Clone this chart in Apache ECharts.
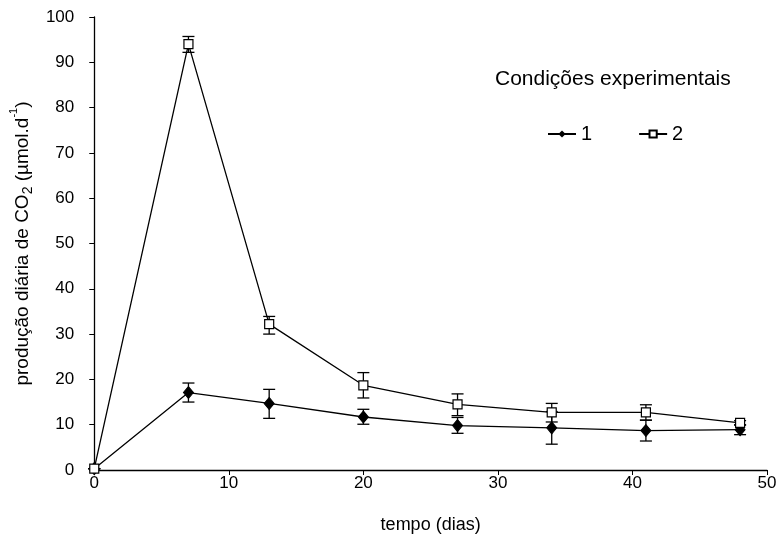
<!DOCTYPE html>
<html>
<head>
<meta charset="utf-8">
<script src="https://cdn.jsdelivr.net/npm/echarts@6/dist/echarts.min.js"></script>
<style>
  html, body { margin: 0; padding: 0; background: #fff; }
  #chart { width: 782px; height: 549px; }
</style>
</head>
<body>
<div id="chart"></div>
<script>
// Sampling days
const days = [0, 7, 13, 20, 27, 34, 41, 48];

// Condition 1: mean daily CO2 production and error bar limits
const cond1 = [0.3, 17.1, 14.7, 11.7, 9.8, 9.3, 8.7, 8.9];
const cond1Low = [0.3, 15.0, 11.4, 10.1, 8.1, 5.7, 6.4, 7.8];
const cond1High = [0.3, 19.2, 17.8, 13.4, 11.6, 12.9, 11.0, 10.0];

// Condition 2: mean daily CO2 production and error bar limits
const cond2 = [0.3, 94.0, 32.2, 18.7, 14.5, 12.7, 12.7, 10.4];
const cond2Low = [0.3, 92.2, 30.0, 15.9, 12.0, 10.6, 11.0, 9.9];
const cond2High = [0.3, 95.7, 33.9, 21.5, 16.8, 14.7, 14.4, 10.9];

const xTicks = [0, 10, 20, 30, 40, 50];
const yTicks = [0, 10, 20, 30, 40, 50, 60, 70, 80, 90, 100];

const FONT = 'Liberation Sans, Arial, sans-serif';

function pairs(xs, ys) { return xs.map((x, i) => [x, ys[i]]); }
function errRows(xs, lo, hi) { return xs.map((x, i) => [x, lo[i], hi[i]]); }

// Vertical error bar with horizontal caps
function renderErr(params, api) {
  const x = api.value(0);
  const lo = api.coord([x, api.value(1)]);
  const hi = api.coord([x, api.value(2)]);
  const cap = 6;
  const style = { stroke: '#000', lineWidth: 1.3 };
  return {
    type: 'group',
    children: [
      { type: 'line', shape: { x1: lo[0], y1: lo[1], x2: hi[0], y2: hi[1] }, style },
      { type: 'line', shape: { x1: hi[0] - cap, y1: hi[1], x2: hi[0] + cap, y2: hi[1] }, style },
      { type: 'line', shape: { x1: lo[0] - cap, y1: lo[1], x2: lo[0] + cap, y2: lo[1] }, style }
    ]
  };
}

const chart = echarts.init(document.getElementById('chart'), null, { renderer: 'canvas' });

chart.setOption({
  backgroundColor: '#fff',
  animation: false,
  textStyle: { fontFamily: FONT, color: '#000' },
  grid: { left: 92, right: 15, top: 17, bottom: 79, containLabel: false },
  graphic: [{
    type: 'text',
    left: 495,
    top: 69,
    style: { text: 'Condições experimentais', font: '21px ' + FONT, fill: '#000' }
  }],
  legend: {
    data: ['1', '2'],
    left: 542,
    top: 119,
    itemWidth: 28,
    itemHeight: 9,
    itemGap: 46,
    textStyle: { fontFamily: FONT, fontSize: 20, color: '#000' }
  },
  xAxis: {
    type: 'value',
    min: xTicks[0],
    max: xTicks[xTicks.length - 1],
    interval: 10,
    name: 'tempo (dias)',
    nameLocation: 'middle',
    nameGap: 46,
    nameTextStyle: { fontFamily: FONT, fontSize: 18, color: '#000' },
    axisLine: { lineStyle: { color: '#000', width: 1.3 } },
    axisTick: { length: 5, lineStyle: { color: '#000' } },
    axisLabel: { fontFamily: FONT, fontSize: 17, color: '#000', margin: 5 },
    splitLine: { show: false }
  },
  yAxis: {
    type: 'value',
    min: yTicks[0],
    max: yTicks[yTicks.length - 1],
    interval: 10,
    name: '{t|produção diária de CO}{sub|2}{t| (µmol.d}{sup|-1}{t|)}',
    nameLocation: 'middle',
    nameRotate: 90,
    nameGap: 54,
    nameTextStyle: {
      rich: {
        t: { fontFamily: FONT, fontSize: 19, color: '#000' },
        sub: { fontFamily: FONT, fontSize: 14, color: '#000', verticalAlign: 'bottom', padding: [0, 0, -3, 0] },
        sup: { fontFamily: FONT, fontSize: 11, color: '#000', verticalAlign: 'top', padding: [-5, 0, 0, 0] }
      }
    },
    axisLine: { show: true, lineStyle: { color: '#000', width: 1.3 } },
    axisTick: { show: true, length: 5, lineStyle: { color: '#000' } },
    axisLabel: { fontFamily: FONT, fontSize: 17, color: '#000', margin: 20 },
    splitLine: { show: false }
  },
  series: [
    {
      name: 'err1',
      type: 'custom',
      renderItem: renderErr,
      data: errRows(days, cond1Low, cond1High),
      z: 1,
      silent: true
    },
    {
      name: 'err2',
      type: 'custom',
      renderItem: renderErr,
      data: errRows(days, cond2Low, cond2High),
      z: 1,
      silent: true
    },
    {
      name: '1',
      type: 'line',
      data: pairs(days, cond1),
      symbol: 'diamond',
      symbolSize: [10, 12],
      lineStyle: { color: '#000', width: 1.3 },
      itemStyle: { color: '#000', borderColor: '#000' },
      z: 3
    },
    {
      name: '2',
      type: 'line',
      data: pairs(days, cond2),
      symbol: 'rect',
      symbolSize: 9,
      lineStyle: { color: '#000', width: 1.3 },
      itemStyle: { color: '#fff', borderColor: '#000', borderWidth: 1.2 },
      z: 4
    }
  ]
});
</script>
</body>
</html>
